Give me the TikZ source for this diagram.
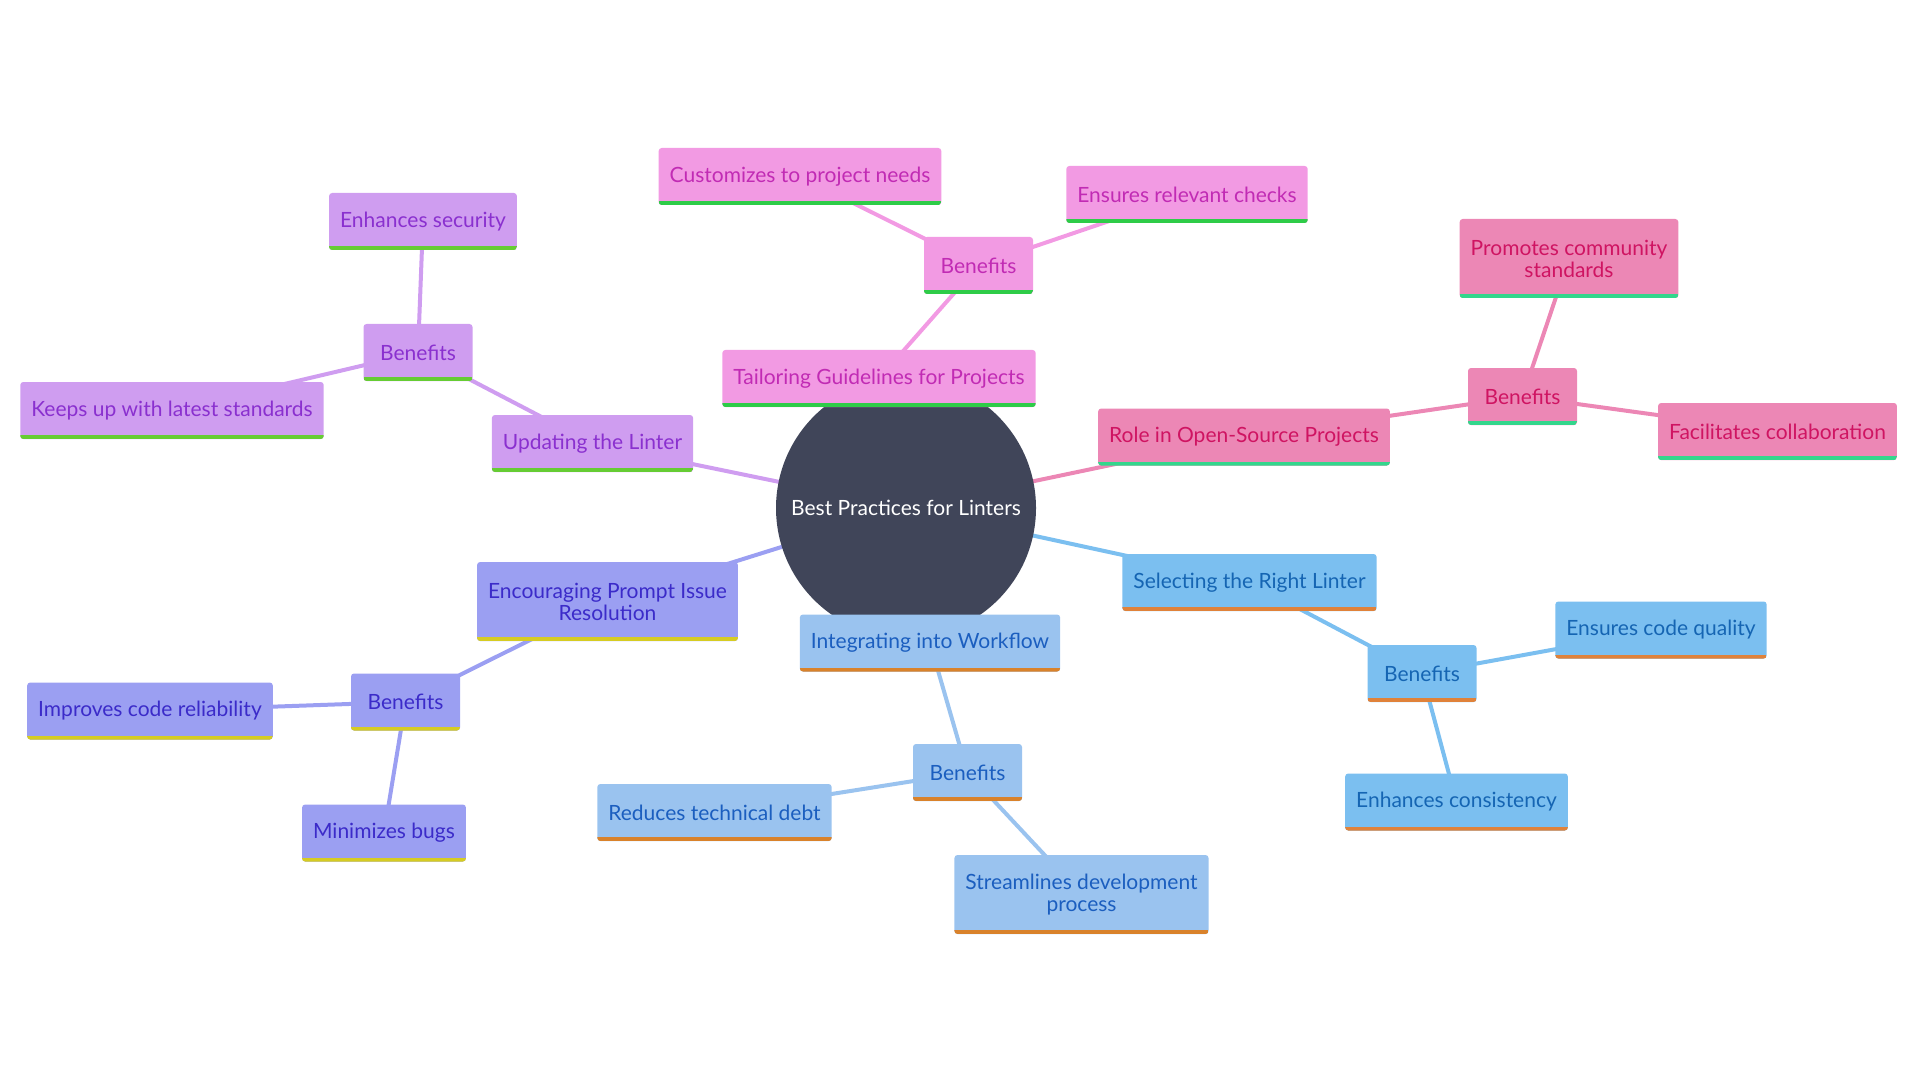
\documentclass[tikz,border=0pt]{standalone}
\usepackage{fontspec}
\setmainfont{Lato}
\usetikzlibrary{backgrounds}

\definecolor{hubcol}{HTML}{404559}
\definecolor{pinkfill}{HTML}{F29AE3}
\definecolor{pinktext}{HTML}{C12BB4}
\definecolor{pinkbar}{HTML}{2ECC48}
\definecolor{purplefill}{HTML}{CF9DF0}
\definecolor{purpletext}{HTML}{8A30CF}
\definecolor{purplebar}{HTML}{66CC33}
\definecolor{rosefill}{HTML}{EC87B5}
\definecolor{rosetext}{HTML}{CF1462}
\definecolor{rosebar}{HTML}{33D68C}
\definecolor{indigofill}{HTML}{9B9FF2}
\definecolor{indigotext}{HTML}{3B2BC9}
\definecolor{indigobar}{HTML}{D6CC22}
\definecolor{skyfill}{HTML}{9AC3EF}
\definecolor{skytext}{HTML}{1B5EBF}
\definecolor{skybar}{HTML}{D9822B}
\definecolor{bluefill}{HTML}{7BBFF0}
\definecolor{bluetext}{HTML}{1565B3}
\definecolor{bluebar}{HTML}{E0823A}

\begin{document}
\begin{tikzpicture} [x=0.5pt, y=-0.5pt,
        box/.style={rectangle, rounded corners=1.5pt, inner xsep=5.5pt, inner ysep=0pt,
            minimum height=28.5pt, minimum width=54.5pt, align=center,
            font=\fontsize{10.5}{11}\selectfont},
        bar/.style={path picture={\fill[#1, sharp corners]
            ([yshift=2pt]path picture bounding box.south west) rectangle
            (path picture bounding box.south east);}},
        tall/.style={minimum height=39.5pt},
        pinkbox/.style={box, fill=pinkfill, text=pinktext, bar=pinkbar},
        purplebox/.style={box, fill=purplefill, text=purpletext, bar=purplebar},
        rosebox/.style={box, fill=rosefill, text=rosetext, bar=rosebar},
        indigobox/.style={box, fill=indigofill, text=indigotext, bar=indigobar},
        skybox/.style={box, fill=skyfill, text=skytext, bar=skybar},
        bluebox/.style={box, fill=bluefill, text=bluetext, bar=bluebar},
        link/.style={line width=2pt}]
            \useasboundingbox (0, 0) rectangle (1920, 1080);

            \node (hub) at (906, 508) [circle, fill=hubcol, text=white, minimum size=130pt,
                inner sep=0pt, font=\fontsize{10.5}{11}\selectfont] {Best Practices for Linters};

            \node (tail)       at (879, 378.5)    [pinkbox] {Tailoring Guidelines for Projects};
            \node (tailben)    at (978.5, 265.5)  [pinkbox] {Benefits};
            \node (tailcust)   at (800, 176.5)    [pinkbox] {Customizes to project needs};
            \node (tailcheck)  at (1187, 194.5)   [pinkbox] {Ensures relevant checks};

            \node (upd)        at (592.5, 443.5)  [purplebox] {Updating the Linter};
            \node (updben)     at (418, 352.5)    [purplebox] {Benefits};
            \node (updsec)     at (423, 221.5)    [purplebox] {Enhances security};
            \node (updstd)     at (172, 410.5)    [purplebox] {Keeps up with latest standards};

            \node (oss)        at (1244, 437)     [rosebox] {Role in Open-Source Projects};
            \node (ossben)     at (1522.5, 396.5) [rosebox] {Benefits};
            \node (osscomm)    at (1569, 258.5)   [rosebox, tall] {Promotes community\\standards};
            \node (osscollab)  at (1777.5, 431.5) [rosebox] {Facilitates collaboration};

            \node (enc)        at (607.5, 601.5)  [indigobox, tall] {Encouraging Prompt Issue\\Resolution};
            \node (encben)     at (405.5, 702)    [indigobox] {Benefits};
            \node (encrel)     at (150, 711)      [indigobox] {Improves code reliability};
            \node (encbugs)    at (384, 833)      [indigobox] {Minimizes bugs};

            \node (integ)      at (930, 643)      [skybox] {Integrating into Workflow};
            \node (integben)   at (967.5, 772.5)  [skybox] {Benefits};
            \node (integdebt)  at (714.5, 812.5)  [skybox] {Reduces technical debt};
            \node (integflow)  at (1081.5, 894.5) [skybox, tall] {Streamlines development\\process};

            \node (sel)        at (1249.5, 582.5) [bluebox] {Selecting the Right Linter};
            \node (selben)     at (1422, 673.5)   [bluebox] {Benefits};
            \node (selqual)    at (1661, 630)     [bluebox] {Ensures code quality};
            \node (selcons)    at (1456.5, 802)   [bluebox] {Enhances consistency};

            \begin{scope}[on background layer]
                \draw[link, pinkfill] (hub.center) -- (tail.center) -- (tailben.center) -- (tailcust.center);
                \draw[link, pinkfill] (tailben.center) -- (tailcheck.center);
                \draw[link, purplefill] (hub.center) -- (upd.center) -- (updben.center) -- (updsec.center);
                \draw[link, purplefill] (updben.center) -- (updstd.center);
                \draw[link, rosefill] (hub.center) -- (oss.center) -- (ossben.center) -- (osscomm.center);
                \draw[link, rosefill] (ossben.center) -- (osscollab.center);
                \draw[link, indigofill] (hub.center) -- (enc.center) -- (encben.center) -- (encrel.center);
                \draw[link, indigofill] (encben.center) -- (encbugs.center);
                \draw[link, skyfill] (hub.center) -- (integ.center) -- (integben.center) -- (integdebt.center);
                \draw[link, skyfill] (integben.center) -- (integflow.center);
                \draw[link, bluefill] (hub.center) -- (sel.center) -- (selben.center) -- (selqual.center);
                \draw[link, bluefill] (selben.center) -- (selcons.center);
            \end{scope}
        \end{tikzpicture}
\end{document}
